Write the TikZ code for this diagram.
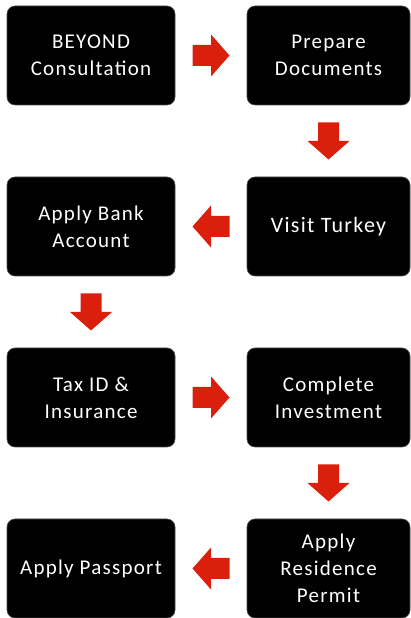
\documentclass[tikz,border=0pt]{standalone}
\usepackage{fontspec}
\setmainfont{Carlito}
\newfontfamily\boxfont[LetterSpace=6]{Carlito}
\usetikzlibrary{calc}
\definecolor{flowred}{RGB}{218,32,12}
\begin{document}
\begin{tikzpicture}[x=1pt,y=1pt]
\tikzset{
    step box/.style={fill=black, draw=black!70, line width=.6pt, rounded corners=8pt,
        minimum height=99pt, text=white, align=center, inner sep=0pt,
        font=\boxfont\fontsize{21}{27}\selectfont},
    wide box/.style={step box, minimum width=168pt},
    narrow box/.style={step box, minimum width=163pt},
    blockarrow/.pic={
        \fill[flowred] (-18.5,-10.5) -- (0,-10.5) -- (0,-21) -- (18.5,0)
            -- (0,21) -- (0,10.5) -- (-18.5,10.5) -- cycle;}}
\def\xl{91}
\def\xr{328.5}

\useasboundingbox (0,0) rectangle (411,618);

\node[wide box] (beyond) at (\xl,562.5) {BEYOND\\Consultation};
\node[narrow box] (prepare) at (\xr,562.5) {Prepare\\Documents};
\node[narrow box, font=\boxfont\fontsize{22}{27}\selectfont] (visit) at (\xr,391.5) {Visit Turkey};
\node[wide box] (bank) at (\xl,391.5) {Apply Bank\\Account};
\node[wide box] (tax) at (\xl,220.5) {Tax ID \&\\Insurance};
\node[narrow box] (invest) at (\xr,220.5) {Complete\\Investment};
\node[narrow box] (residence) at (\xr,49.5) {Apply\\Residence\\Permit};
\node[wide box] (passport) at (\xl,49.5) {Apply Passport};

\pic at ($(beyond.east)!.5!(prepare.west)$) {blockarrow};
\pic[rotate=-90] at ($(prepare.south)!.5!(visit.north)$) {blockarrow};
\pic[rotate=180] at ($(visit.west)!.5!(bank.east)$) {blockarrow};
\pic[rotate=-90] at ($(bank.south)!.5!(tax.north)$) {blockarrow};
\pic at ($(tax.east)!.5!(invest.west)$) {blockarrow};
\pic[rotate=-90] at ($(invest.south)!.5!(residence.north)$) {blockarrow};
\pic[rotate=180] at ($(residence.west)!.5!(passport.east)$) {blockarrow};

\end{tikzpicture}
\end{document}
